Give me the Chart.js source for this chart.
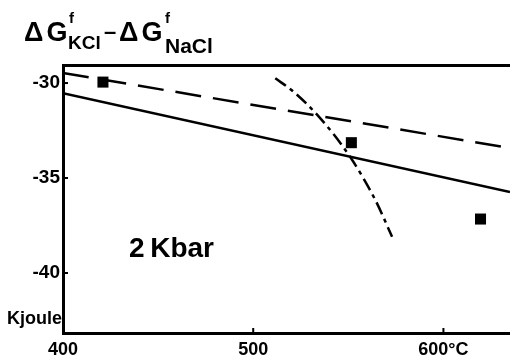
<!DOCTYPE html>
<html>
<head>
<meta charset="utf-8">
<script src="https://cdn.jsdelivr.net/npm/chart.js@4/dist/chart.umd.min.js"></script>
<style>
  html, body { margin: 0; padding: 0; background: #fff; }
  #wrap { position: relative; width: 510px; height: 360px; overflow: hidden; }
  canvas { position: absolute; left: 0; top: 0; }
  .t { position: absolute; font-family: "Liberation Sans", Arial, sans-serif; font-weight: bold; color: #000; white-space: nowrap; line-height: 1; }
</style>
</head>
<body>
<div id="wrap">
  <canvas id="c" width="510" height="360"></canvas>
  <div id="title">
    <span class="t" style="left:24px; top:19px; font-size:27px; letter-spacing:3px;">ΔG</span>
    <span class="t" style="left:69px; top:10px; font-size:15px;">f</span>
    <span class="t" style="left:68px; top:33px; font-size:19px;">KCl</span>
    <span class="t" style="left:104px; top:21px; font-size:22px;">–</span>
    <span class="t" style="left:119px; top:19px; font-size:27px; letter-spacing:3px;">ΔG</span>
    <span class="t" style="left:165px; top:10px; font-size:15px;">f</span>
    <span class="t" style="left:165px; top:35px; font-size:21px;">NaCl</span>
  </div>
  <div class="t" style="left:129px; top:234px; font-size:28px;">2&#8201;Kbar</div>
  <div class="t" style="left:7px; top:309px; font-size:18px;">Kjoule</div>
</div>
<script>
// ---- data ----
const xTicks = [400, 500, 600];
const yTicks = [-30, -35, -40];
const squareX = [421, 551.6, 619.5];
const squareY = [-29.95, -33.14, -37.16];
const dashedX = [400, 635];
const dashedY = [-29.47, -33.42];
const solidX = [400, 635];
const solidY = [-30.53, -35.74];
const curveX = [511.6, 521.2, 535.3, 551.1, 564.2, 573.0];
const curveY = [-29.75, -30.46, -31.86, -33.91, -36.16, -38.09];

const pts = (xs, ys) => xs.map((x, i) => ({ x: x, y: ys[i] }));
const FONT = "'Liberation Sans', Arial, sans-serif";

const inwardTicks = {
  id: 'inwardTicks',
  afterDraw(chart) {
    const ctx = chart.ctx, xs = chart.scales.x, ys = chart.scales.y;
    const a = chart.chartArea;
    ctx.save();
    ctx.strokeStyle = '#000';
    ctx.lineWidth = 2;
    yTicks.forEach(v => {
      const p = ys.getPixelForValue(v);
      ctx.beginPath(); ctx.moveTo(a.left, p); ctx.lineTo(a.left + 5, p); ctx.stroke();
    });
    xTicks.forEach(v => {
      const p = xs.getPixelForValue(v);
      ctx.beginPath(); ctx.moveTo(p, a.bottom); ctx.lineTo(p, a.bottom - 5); ctx.stroke();
    });
    ctx.restore();
  }
};

new Chart(document.getElementById('c'), {
  type: 'scatter',
  data: {
    datasets: [
      { label: 'dashed', type: 'line', data: pts(dashedX, dashedY), borderColor: '#000', borderWidth: 2.5,
        borderDash: [26, 12], pointRadius: 0, fill: false },
      { label: 'solid', type: 'line', data: pts(solidX, solidY), borderColor: '#000', borderWidth: 2.5,
        pointRadius: 0, fill: false },
      { label: 'dashdot', type: 'line', data: pts(curveX, curveY), borderColor: '#000', borderWidth: 2.5,
        borderDash: [13, 5, 4, 5], pointRadius: 0, fill: false, tension: 0.4, cubicInterpolationMode: 'monotone' },
      { label: 'points', data: pts(squareX, squareY), backgroundColor: '#000', borderColor: '#000',
        pointStyle: 'rect', pointRadius: 7.8, borderWidth: 0 }
    ]
  },
  options: {
    responsive: false,
    animation: false,
    events: [],
    layout: { autoPadding: false, padding: { top: 65, right: 0, left: 0, bottom: 0 } },
    plugins: { legend: { display: false }, tooltip: { enabled: false }, title: { display: false } },
    scales: {
      x: {
        type: 'linear', min: 400, max: 635,
        afterBuildTicks: s => { s.ticks = xTicks.map(v => ({ value: v })); },
        afterFit: s => { s.height = 27; },
        ticks: { color: '#000', font: { family: FONT, size: 18, weight: 'bold' }, padding: 6, maxRotation: 0,
                 callback: v => v === 600 ? '600°C' : String(v) },
        grid: { display: true, drawOnChartArea: false, drawTicks: false },
        border: { display: true, color: '#000', width: 3 }
      },
      xTop: {
        type: 'linear', position: 'top', min: 400, max: 635,
        ticks: { display: false },
        grid: { display: false, drawTicks: false },
        border: { display: true, color: '#000', width: 3 },
        afterFit: s => { s.height = 0; }
      },
      y: {
        type: 'linear', min: -43.16, max: -29.05,
        afterBuildTicks: s => { s.ticks = yTicks.map(v => ({ value: v })); },
        afterFit: s => { s.width = 63; },
        ticks: { color: '#000', font: { family: FONT, size: 19, weight: 'bold' }, padding: 3 },
        grid: { display: true, drawOnChartArea: false, drawTicks: false },
        border: { display: true, color: '#000', width: 3 }
      }
    }
  },
  plugins: [inwardTicks]
});
</script>
</body>
</html>
